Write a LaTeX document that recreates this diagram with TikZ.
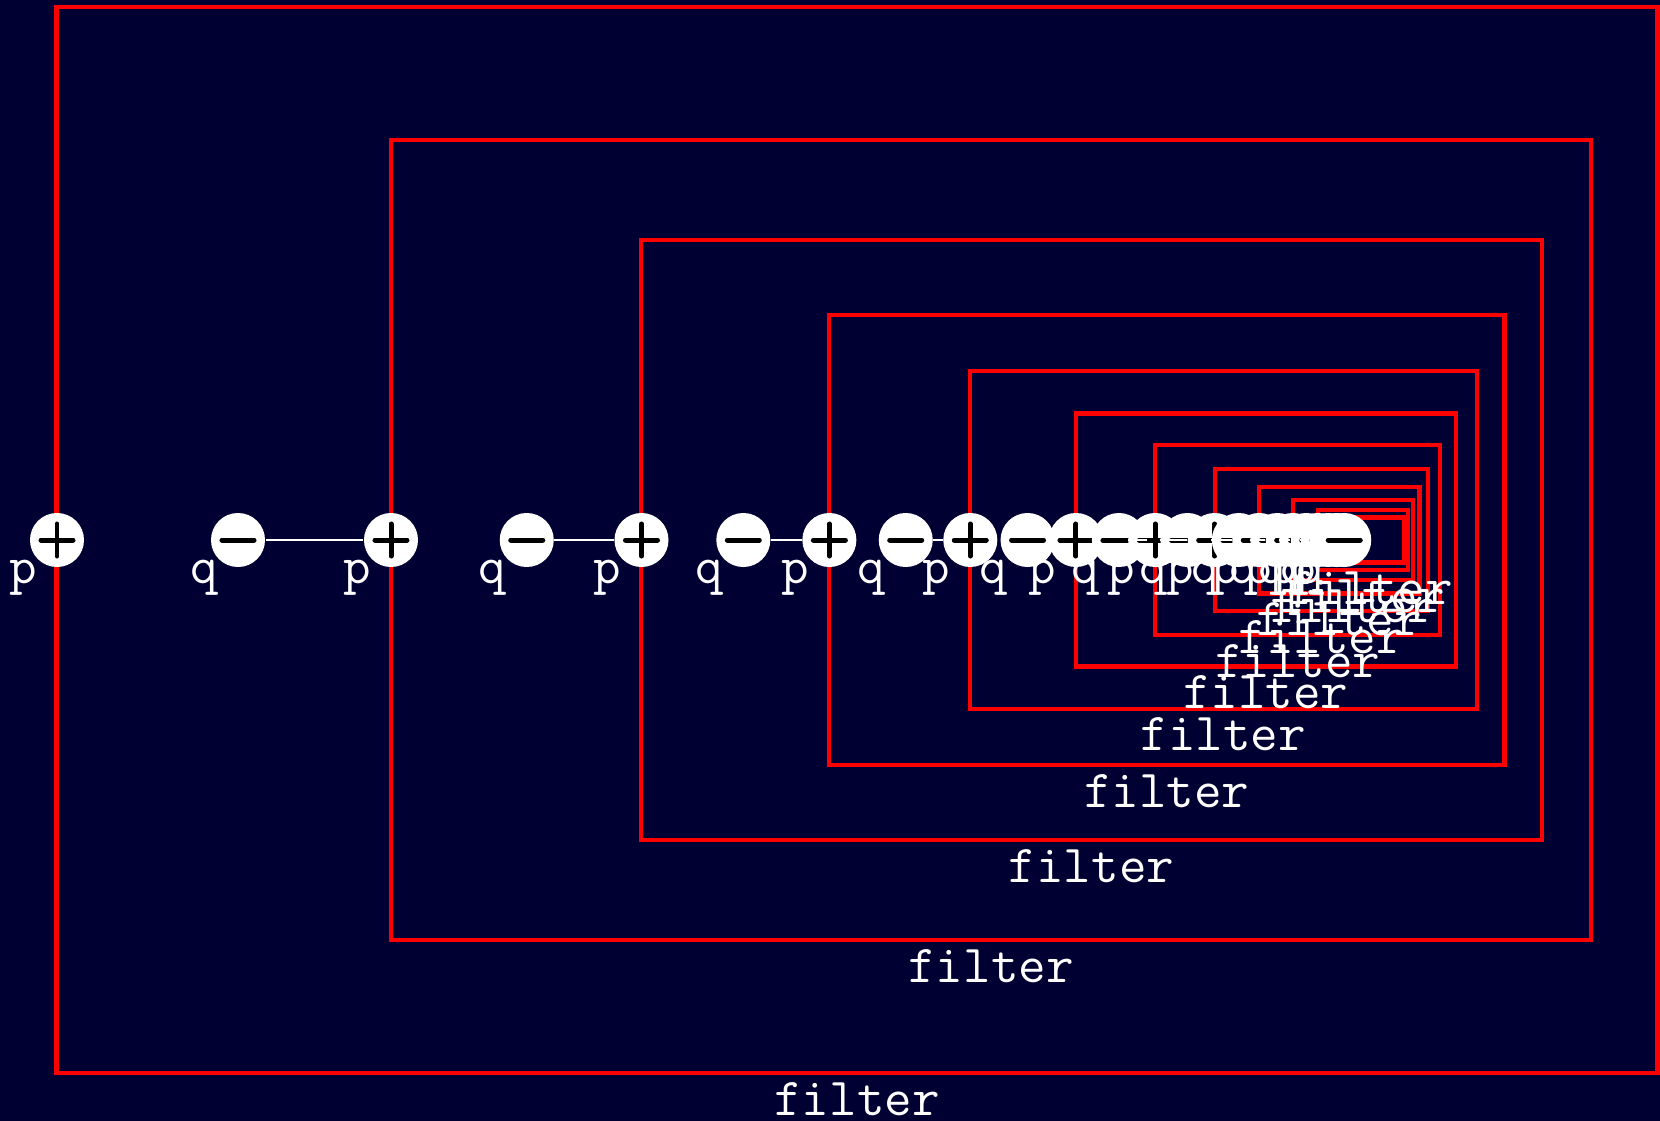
\documentclass[tikz,border=0pt]{standalone}
\usepackage{fontspec}
\usepackage{xcolor}
\usepackage{tikz}
\usetikzlibrary{positioning,calc}

\definecolor{bgnavy}{RGB}{0,0,51}

\begin{document}
\begin{tikzpicture}[x=0.01cm, y=-0.01cm,
    filterbox/.style={draw=red, line width=1.2pt, inner sep=0pt},
    charge/.style={circle, fill=white, minimum size=0.54cm, inner sep=0pt},
    signline/.style={black, line width=1.42pt, line cap=round},
    plusdot/.style={charge, path picture={
        \draw[signline] ([xshift=-0.16cm]path picture bounding box.center) -- ([xshift=0.16cm]path picture bounding box.center);
        \draw[signline] ([yshift=-0.16cm]path picture bounding box.center) -- ([yshift=0.16cm]path picture bounding box.center);}},
    minusdot/.style={charge, path picture={
        \draw[signline] ([xshift=-0.16cm]path picture bounding box.center) -- ([xshift=0.16cm]path picture bounding box.center);}},
    tag/.style={text=white, font=\fontsize{15.2}{16}\selectfont\ttfamily, inner sep=0pt},
    link/.style={white, line width=0.4pt}]

% Background
\useasboundingbox (0,0) rectangle (1660,1121);
\fill[bgnavy] (0,0) rectangle (1660,1121);

% Nested filter levels, each 0.75 of the one before
\foreach \n in {0,...,11} {
    \pgfmathsetmacro{\f}{0.75^\n}
    \pgfmathsetmacro{\bx}{1393 - 536*\f}
    \pgfmathsetmacro{\bw}{16*\f}
    \pgfmathsetmacro{\bh}{10.66*\f}
    \pgfmathsetmacro{\px}{1393 - 1336*\f}
    \pgfmathsetmacro{\qx}{1393 - 1155*\f}
    \pgfmathtruncatemacro{\m}{\n - 1}
    \node[filterbox, minimum width=\bw cm, minimum height=\bh cm,
          label={[tag, inner sep=1.8pt]below:filter}] (box\n) at (\bx, 540) {};
    \node[plusdot, label={[tag]below left:p}] (p\n) at (\px, 540) {};
    \ifnum\n>0 \draw[link] (q\m) -- (p\n); \fi
    \node[minusdot, label={[tag]below left:q}] (q\n) at (\qx, 540) {};
}

\end{tikzpicture}
\end{document}
